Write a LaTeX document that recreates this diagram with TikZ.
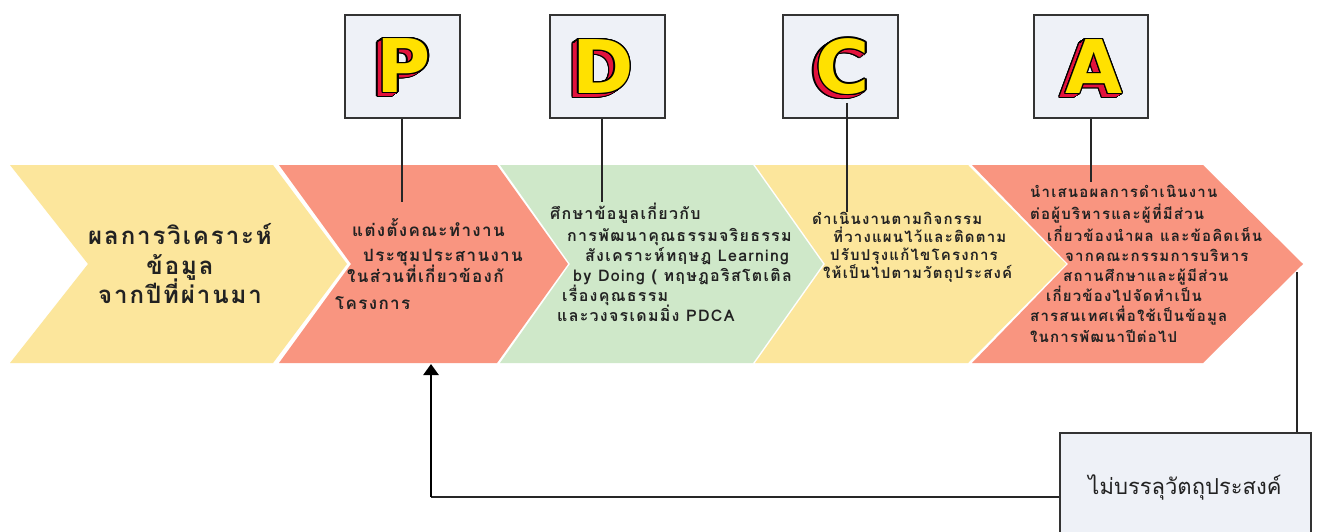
\documentclass[tikz,border=0pt]{standalone}
\usepackage{fontspec}
\usepackage[copies]{contour}
\contourlength{1.3pt}
\newfontfamily\thaiw[Script=Thai,LetterSpace=8]{Loma}
\newfontfamily\thai[Script=Thai]{Loma}
\newfontfamily\letterfont{DejaVu Sans}
\usetikzlibrary{calc,arrows.meta}
\definecolor{cyel}{HTML}{FCE69C}
\definecolor{csal}{HTML}{F99580}
\definecolor{cgrn}{HTML}{CFE8C9}
\definecolor{cbox}{HTML}{EEF1F7}
\definecolor{cedge}{HTML}{333333}
\definecolor{ltrY}{HTML}{FFE100}
\definecolor{ltrR}{HTML}{E3123C}
\definecolor{ctext}{HTML}{222222}
\tikzset{
  lbox/.style={draw=cedge, line width=1.6pt, fill=cbox},
  stem/.style={draw=black!85, line width=1.8pt},
  ttitle/.style={font=\thaiw\bfseries\fontsize{24}{30}\selectfont, text=ctext, inner sep=0pt, anchor=base},
  ttwo/.style={font=\thaiw\bfseries\fontsize{17}{24}\selectfont, text=ctext, inner sep=0pt, anchor=base west},
  tmid/.style={font=\thaiw\bfseries\fontsize{16}{20}\selectfont, text=ctext, inner sep=0pt, anchor=base west},
  tsml/.style={font=\thaiw\bfseries\fontsize{15}{20}\selectfont, text=ctext, inner sep=0pt, anchor=base west},
  ltr/.style={font=\letterfont\bfseries\fontsize{74}{74}\selectfont, inner sep=0pt},
}
\newcommand\pdcaletter[3]{% name, center, letter
  \foreach \k in {7,...,1}
    \node[ltr] (#1x\k) at ($(#2)+(-0.8*\k,0.55*\k)$) {\contour{black}{\textcolor{ltrR}{#3}}};
  \foreach \k in {7,...,1}
    \node[ltr, text=ltrR] (#1r\k) at ($(#2)+(-0.8*\k,0.55*\k)$) {#3};
  \node[ltr] (#1f) at (#2) {\contour{black}{\textcolor{ltrY}{#3}}};
}
\begin{document}
\begin{tikzpicture}[x=1pt,y=-1pt]
\useasboundingbox (0,0) rectangle (1317,532);
\fill[white] (0,0) rectangle (1317,532);

% chevrons
\fill[cyel] (10,165) -- (273,165) -- (347,264) -- (273,363) -- (10,363) -- (88,264) -- cycle;
\fill[csal] (279,165) -- (497,165) -- (568,264) -- (497,363) -- (279,363) -- (351,264) -- cycle;
\fill[cgrn] (500,165) -- (753,165) -- (823,264) -- (753,363) -- (500,363) -- (570,264) -- cycle;
\fill[cyel] (755,165) -- (968,165) -- (1066,264) -- (968,363) -- (755,363) -- (825,264) -- cycle;
\fill[csal] (972,165) -- (1203,165) -- (1303,264) -- (1203,363) -- (972,363) -- (1068,264) -- cycle;

% letter boxes
\node[lbox, minimum width=115pt, minimum height=103pt] (bP) at (402.5,66.5) {};
\node[lbox, minimum width=115pt, minimum height=103pt] (bD) at (607.5,66.5) {};
\node[lbox, minimum width=115pt, minimum height=103pt] (bC) at (840.5,66.5) {};
\node[lbox, minimum width=114pt, minimum height=103pt] (bA) at (1091,66.5) {};

% stems
\coordinate (eP) at (402,202);
\coordinate (eD) at (602,202);
\coordinate (sC) at (847,103);
\coordinate (eC) at (847,212);
\coordinate (eA) at (1091,182);
\draw[stem] (bP.south -| eP) -- (eP);
\draw[stem] (bD.south -| eD) -- (eD);
\draw[stem] (sC) -- (eC);
\draw[stem] (bA.south -| eA) -- (eA);

% letters
\pdcaletter{P}{404,66}{P}
\pdcaletter{D}{603,67}{D}
\pdcaletter{C}{843,67}{C}
\pdcaletter{A}{1094,67}{A}

% chevron 1
\node[ttitle] (t1a) at (180,244) {ผลการวิเคราะห์};
\node[ttitle] (t1b) at (180,274) {ข้อมูล};
\node[ttitle] (t1c) at (180,303) {จากปีที่ผ่านมา};

% chevron 2
\node[ttwo] (t2a) at (352,236) {แต่งตั้งคณะทำงาน};
\node[ttwo] (t2b) at (363,261) {ประชุมประสานงาน};
\node[ttwo] (t2c) at (347,282) {ในส่วนที่เกี่ยวข้องกั};
\node[ttwo] (t2d) at (335,309) {โครงการ};

% chevron 3
\node[tmid] (t3a) at (550,219) {ศึกษาข้อมูลเกี่ยวกับ};
\node[tmid] (t3b) at (567,241) {การพัฒนาคุณธรรมจริยธรรม};
\node[tmid] (t3c) at (585,261) {สังเคราะห์ทฤษฎ Learning};
\node[tmid] (t3d) at (573,281) {by Doing ( ทฤษฎอริสโตเติล};
\node[tmid] (t3e) at (562,301) {เรื่องคุณธรรม};
\node[tmid] (t3f) at (557,321) {และวงจรเดมมิ่ง PDCA};

% chevron 4
\node[tsml] (t4a) at (812,224) {ดำเนินงานตามกิจกรรม};
\node[tsml] (t4b) at (833,242) {ที่วางแผนไว้และติดตาม};
\node[tsml] (t4c) at (830,260) {ปรับปรุงแก้ไขโครงการ};
\node[tsml] (t4d) at (823,278) {ให้เป็นไปตามวัตถุประสงค์};

% chevron 5
\node[tsml] (t5a) at (1030,197) {นำเสนอผลการดำเนินงาน};
\node[tsml] (t5b) at (1030,219) {ต่อผู้บริหารและผู้ที่มีส่วน};
\node[tsml] (t5c) at (1047,241) {เกี่ยวข้องนำผล และข้อคิดเห็น};
\node[tsml] (t5d) at (1065,261) {จากคณะกรรมการบริหาร};
\node[tsml] (t5e) at (1063,281) {สถานศึกษาและผู้มีส่วน};
\node[tsml] (t5f) at (1046,301) {เกี่ยวข้องไปจัดทำเป็น};
\node[tsml] (t5g) at (1030,321) {สารสนเทศเพื่อใช้เป็นข้อมูล};
\node[tsml] (t5h) at (1030,342) {ในการพัฒนาปีต่อไป};

% bottom box
\node[lbox, minimum width=251pt, minimum height=110pt, anchor=north west] (fb) at (1059,432) {};
\node[font=\thai\fontsize{22}{26}\selectfont, text=ctext, inner sep=0pt] (nb) at (1185,487) {ไม่บรรลุวัตถุประสงค์};

% feedback
\coordinate (rtip) at (1297,272);
\coordinate (corner) at (431,497);
\coordinate (atip) at (431,364);
\draw[black!85, line width=1.6pt] (rtip) -- (rtip |- fb.north);
\draw[black!85, line width=1.6pt] (fb.west |- corner) -- (corner);
\draw[black, line width=2.6pt, -{Triangle[length=11pt,width=15pt]}] (corner) -- (atip);
\end{tikzpicture}
\end{document}
